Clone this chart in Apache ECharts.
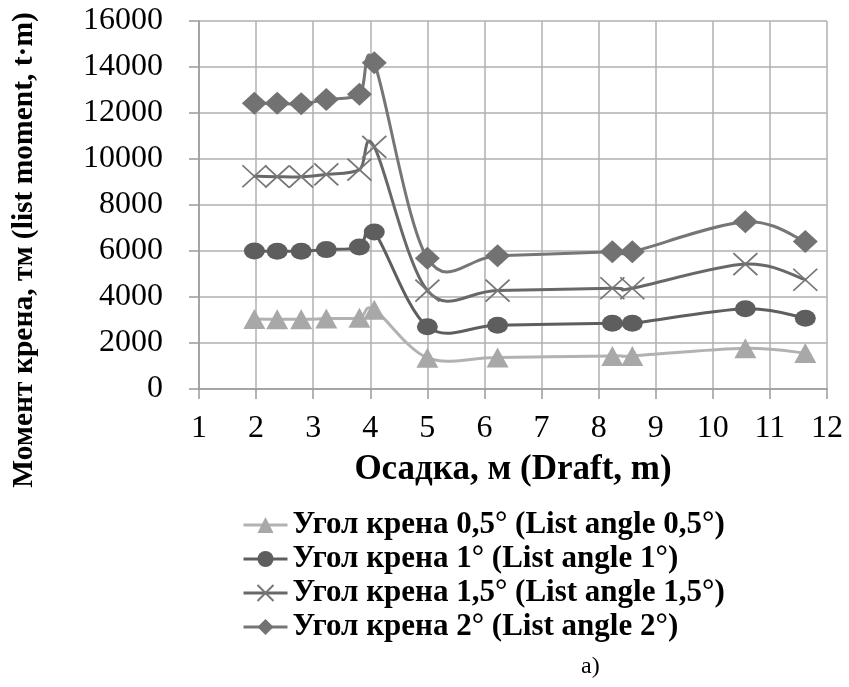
<!DOCTYPE html>
<html>
<head>
<meta charset="utf-8">
<script src="https://cdn.jsdelivr.net/npm/echarts@6/dist/echarts.min.js"></script>
<style>
html,body{margin:0;padding:0;background:#fff;}
#c{width:849px;height:687px;}
</style>
</head>
<body>
<div id="c"></div>
<script>
// Draft values (x axis), m
var drafts = [1.97, 2.37, 2.79, 3.23, 3.81, 4.07, 5.0, 6.23, 8.24, 8.59, 10.57, 11.62];
// List moment, t·m
var angle05 = [3040, 3030, 3030, 3060, 3100, 3450, 1360, 1370, 1440, 1440, 1770, 1560];
var angle1  = [6000, 5990, 5990, 6060, 6170, 6830, 2710, 2770, 2860, 2860, 3490, 3080];
var angle15 = [9250, 9230, 9230, 9330, 9540, 10530, 4280, 4280, 4380, 4380, 5430, 4750];
var angle2  = [12420, 12420, 12400, 12590, 12820, 14180, 5690, 5790, 5970, 5970, 7270, 6410];
var seriesNames = [
  'Угол крена 0,5° (List angle 0,5°)',
  'Угол крена 1° (List angle 1°)',
  'Угол крена 1,5° (List angle 1,5°)',
  'Угол крена 2° (List angle 2°)'
];
var yTicks = [0, 2000, 4000, 6000, 8000, 10000, 12000, 14000, 16000];
var xTicks = [1, 2, 3, 4, 5, 6, 7, 8, 9, 10, 11, 12];
var xTitle = 'Осадка, м (Draft, m)';
var yTitle = 'Момент крена, тм (list moment, t·m)';
var panelLabel = 'a)';

function pairs(ys){ return drafts.map(function(x,i){ return [x, ys[i]]; }); }

var serif = '"Liberation Serif", "Times New Roman", serif';

// Excel-like smoothed line (Catmull-Rom -> Bezier), positions from the chart's own scales
function smoothSeries(name, ys, color, z){
  var pts = pairs(ys);
  return {
    name: name + ' (curve)', type: 'custom', z: z, silent: true,
    data: pts,
    encode: {x: 0, y: 1},
    renderItem: function(params, api){
      var i = params.dataIndex;
      if (i >= pts.length - 1) return null;
      var P = function(k){ k = Math.max(0, Math.min(pts.length - 1, k)); return api.coord(pts[k]); };
      var p0 = P(i - 1), p1 = P(i), p2 = P(i + 1), p3 = P(i + 2);
      var t = 1 / 6;
      return {
        type: 'bezierCurve',
        shape: {
          x1: p1[0], y1: p1[1], x2: p2[0], y2: p2[1],
          cpx1: p1[0] + (p2[0] - p0[0]) * t, cpy1: p1[1] + (p2[1] - p0[1]) * t,
          cpx2: p2[0] - (p3[0] - p1[0]) * t, cpy2: p2[1] - (p3[1] - p1[1]) * t
        },
        style: {stroke: color, lineWidth: 3, fill: null, lineCap: 'round'}
      };
    }
  };
}

function markerSeries(name, ys, symbol, size, itemStyle, z){
  return {
    name: name, type: 'line', data: pairs(ys),
    symbol: symbol, symbolSize: size, symbolKeepAspect: false,
    itemStyle: itemStyle,
    lineStyle: {opacity: 0, width: 0}, z: z
  };
}

var lineColors = ['#b2b2b2', '#5e5e5e', '#686868', '#767676'];

var chart = echarts.init(document.getElementById('c'), null, {renderer:'canvas'});
chart.setOption({
  animation: false,
  backgroundColor: '#ffffff',
  grid: {left: 199, right: 22, top: 21, bottom: 298, containLabel: false, outerBoundsMode: 'none'},
  xAxis: {
    type: 'value', min: xTicks[0], max: xTicks[xTicks.length-1], interval: 1,
    name: xTitle, nameLocation: 'middle', nameGap: 63,
    nameTextStyle: {fontFamily: serif, fontWeight: 'bold', fontSize: 35, color: '#000'},
    axisLine: {show: true, onZero: false, lineStyle: {color: '#9a9a9a', width: 1.5}},
    axisTick: {show: true, length: 10, lineStyle: {color: '#9a9a9a', width: 1.5}},
    axisLabel: {fontFamily: serif, fontSize: 32, color: '#000', margin: 24,
      formatter: function(v){ return String(v); }},
    splitLine: {show: true, lineStyle: {color: '#b0b0b0', width: 1.5}}
  },
  yAxis: {
    type: 'value', min: yTicks[0], max: yTicks[yTicks.length-1], interval: 2000,
    axisLine: {show: true, lineStyle: {color: '#9a9a9a', width: 1.5}},
    axisTick: {show: true, length: 10, lineStyle: {color: '#9a9a9a', width: 1.5}},
    axisLabel: {fontFamily: serif, fontSize: 32, color: '#000', margin: 36,
      formatter: function(v){ return String(v); }},
    splitLine: {show: true, lineStyle: {color: '#b0b0b0', width: 1.5}}
  },
  legend: {
    orient: 'vertical', left: 237, top: 504,
    itemWidth: 44, itemHeight: 20, itemGap: 2,
    textStyle: {fontFamily: serif, fontWeight: 'bold', fontSize: 31, color: '#000', lineHeight: 32},
    data: seriesNames.map(function(n, i){
      return {name: n, lineStyle: {color: lineColors[i], width: 3, opacity: 1}};
    })
  },
  graphic: [{
    type: 'text', x: 24, y: 250, rotation: Math.PI / 2,
    style: {text: yTitle, font: 'bold 29.5px ' + serif, fill: '#000', align: 'center', verticalAlign: 'middle'}
  }, {
    type: 'text', left: 581, top: 655,
    style: {text: panelLabel, font: '24px ' + serif, fill: '#000'}
  }],
  series: [
    smoothSeries(seriesNames[0], angle05, lineColors[0], 2),
    smoothSeries(seriesNames[1], angle1, lineColors[1], 2),
    smoothSeries(seriesNames[2], angle15, lineColors[2], 2),
    smoothSeries(seriesNames[3], angle2, lineColors[3], 2),
    markerSeries(seriesNames[0], angle05, 'triangle', [22, 20], {color: '#a8a8a8'}, 3),
    markerSeries(seriesNames[1], angle1, 'circle', [21, 17], {color: '#5e5e5e'}, 4),
    markerSeries(seriesNames[2], angle15, 'path://M0,0L24,22M24,0L0,22', [24, 22],
      {color: '#777777', borderColor: '#777777', borderWidth: 1.8}, 5),
    markerSeries(seriesNames[3], angle2, 'diamond', [25, 23], {color: '#727272'}, 6)
  ]
});
</script>
</body>
</html>
